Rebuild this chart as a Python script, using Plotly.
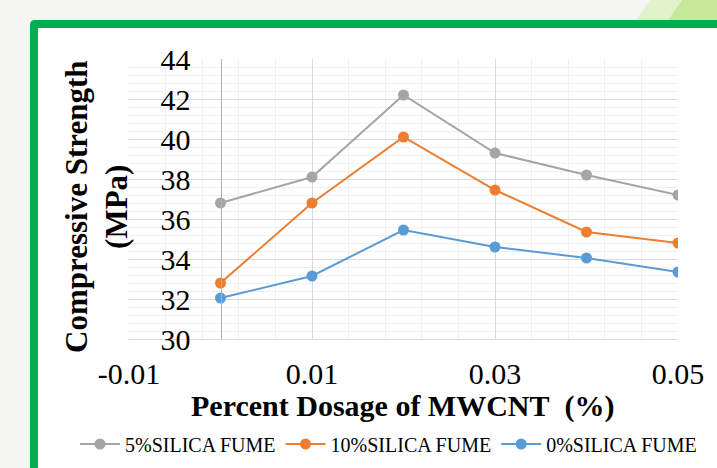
import plotly.graph_objects as go

# ---- data ----
dosage = [0.0, 0.01, 0.02, 0.03, 0.04, 0.05]
sf5 = [36.8, 38.1, 42.2, 39.3, 38.2, 37.2]
sf10 = [32.8, 36.8, 40.1, 37.45, 35.35, 34.8]
sf0 = [32.05, 33.15, 35.45, 34.6, 34.05, 33.35]
series_names = ["5%SILICA FUME", "10%SILICA FUME", "0%SILICA FUME"]
x_tickvals = [-0.01, 0.01, 0.03, 0.05]
x_ticktext = ["-0.01", "0.01", "0.03", "0.05"]

W, H = 717, 468
L, R, T, B = 129, 678, 59, 339  # plot area pixels


def px(x):
    return (x - L) / (R - L)


def py(y):
    return (B - y) / (B - T)


FONT = "Liberation Serif, Times New Roman, serif"
colors = ["#a5a5a5", "#ed7d31", "#5b9bd5"]

fig = go.Figure()
for name, ys, c in zip(series_names, [sf5, sf10, sf0], colors):
    fig.add_trace(go.Scatter(
        x=dosage, y=ys, name=name, mode="lines+markers",
        line=dict(color=c, width=2),
        marker=dict(color=c, size=11),
    ))

shapes = [
    # green frame
    dict(type="path", xref="paper", yref="paper", layer="below",
         path=f"M {px(30)},{py(480)} L {px(30)},{py(25)} Q {px(30)},{py(20)} {px(35)},{py(20)} "
              f"L {px(740)},{py(20)} L {px(740)},{py(480)} Z",
         fillcolor="#00b050", line=dict(width=0)),
    dict(type="rect", xref="paper", yref="paper", layer="below",
         x0=px(38), x1=px(740), y0=py(480), y1=py(28),
         fillcolor="white", line=dict(width=0)),
    # leaf hint at top right
    dict(type="path", xref="paper", yref="paper", layer="below",
         path=f"M {px(636)},{py(20)} L {px(650)},{py(0)} L {px(720)},{py(0)} L {px(720)},{py(20)} Z",
         fillcolor="#e2f3cc", line=dict(width=0)),
    dict(type="path", xref="paper", yref="paper", layer="below",
         path=f"M {px(668)},{py(20)} L {px(682)},{py(0)} L {px(720)},{py(0)} L {px(720)},{py(20)} Z",
         fillcolor="#c6e89a", line=dict(width=0)),
]

annotations = [
    dict(text="<b>Compressive Strength<br>(MPa)</b>", xref="paper", yref="paper",
         x=px(96), y=py(207), xanchor="center", yanchor="middle", textangle=-90,
         showarrow=False, font=dict(family=FONT, size=31, color="black")),
    dict(text="<b>Percent Dosage of MWCNT\u00a0\u00a0(%)</b>", xref="paper", yref="paper",
         x=px(403), y=py(406), xanchor="center", yanchor="middle",
         showarrow=False, font=dict(family=FONT, size=30, color="black")),
]

fig.update_layout(
    width=W, height=H,
    margin=dict(l=L, r=W - R, t=T, b=H - B, pad=0, autoexpand=False),
    paper_bgcolor="#f5f5f3", plot_bgcolor="rgba(0,0,0,0)",
    font=dict(family=FONT, color="black"),
    shapes=shapes, annotations=annotations,
    showlegend=True,
    legend=dict(orientation="h", x=px(75), y=py(444), xanchor="left", yanchor="middle",
                font=dict(family=FONT, size=20, color="black"),
                bgcolor="rgba(0,0,0,0)", itemwidth=40, tracegroupgap=0),
    xaxis=dict(range=[-0.01, 0.05], tickvals=x_tickvals, ticktext=x_ticktext,
               showgrid=True, gridcolor="#d9d9d9", gridwidth=1,
               minor=dict(tick0=-0.01, dtick=0.004, showgrid=True, gridcolor="#f0f0f0", gridwidth=1),
               showline=True, linecolor="#d9d9d9", linewidth=1,
               zeroline=False, ticks="", ticklabelstandoff=8,
               tickfont=dict(family=FONT, size=30, color="black")),
    yaxis=dict(range=[30, 44], tick0=30, dtick=2,
               anchor="free", position=1 / 6,
               showgrid=True, gridcolor="#d9d9d9", gridwidth=1,
               minor=dict(tick0=30, dtick=0.4, showgrid=True, gridcolor="#f0f0f0", gridwidth=1),
               showline=True, linecolor="#b0b0b0", linewidth=1,
               zeroline=False, ticks="", ticklabelstandoff=24,
               tickfont=dict(family=FONT, size=30, color="black")),
)

fig.write_html("out.html", config={"displayModeBar": False},
               post_script="document.body.style.margin='0';")
